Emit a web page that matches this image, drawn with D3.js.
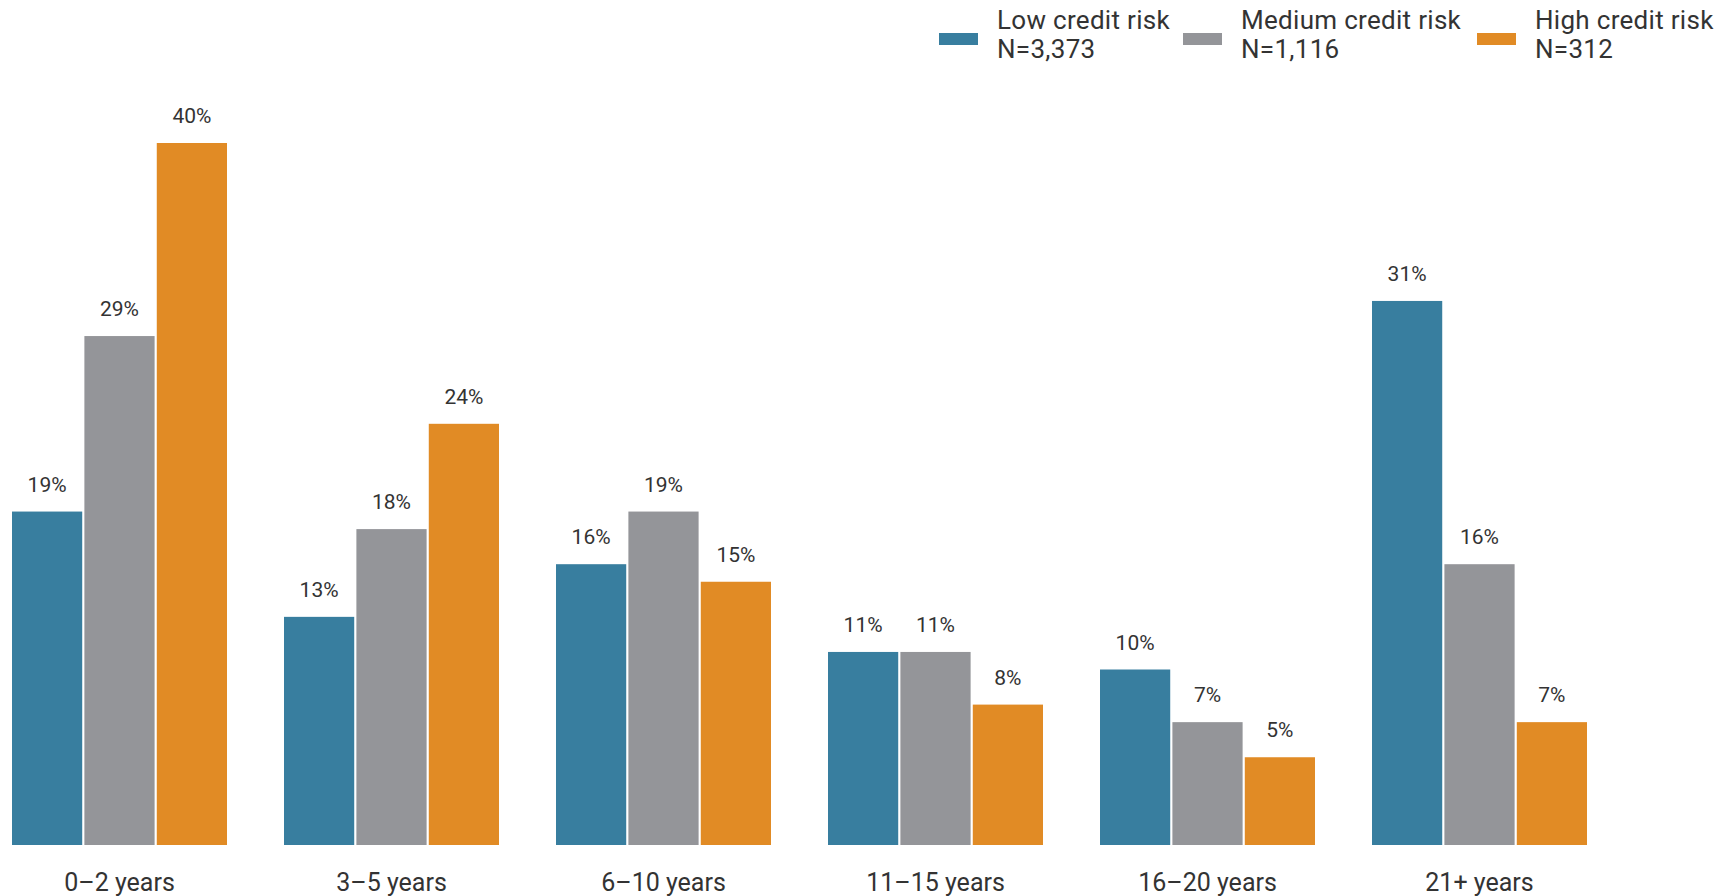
<!DOCTYPE html>
<html>
<head>
<meta charset="utf-8">
<script src="https://cdn.jsdelivr.net/npm/d3@7"></script>
<style>
  html, body { margin: 0; padding: 0; background: #fff; }
  svg { display: block; font-family: Roboto, "Noto Sans", sans-serif; }
</style>
</head>
<body>
<svg id="chart" width="1734" height="896"></svg>
<script>
const categories = ["0–2 years", "3–5 years", "6–10 years", "11–15 years", "16–20 years", "21+ years"];
const seriesNames = ["Low credit risk", "Medium credit risk", "High credit risk"];
const seriesN = ["N=3,373", "N=1,116", "N=312"];
const lowValues = [19, 13, 16, 11, 10, 31];
const mediumValues = [29, 18, 19, 11, 7, 16];
const highValues = [40, 24, 15, 8, 5, 7];
const colors = ["#387e9f", "#949599", "#e18b25"];

const seriesValues = [lowValues, mediumValues, highValues];
const data = categories.map((c, i) => ({
  category: c,
  values: seriesValues.map((arr, s) => ({ series: seriesNames[s], value: arr[i], s }))
}));

const svg = d3.select("#chart");
const baseline = 845;

const x0 = d3.scaleBand()
  .domain(categories)
  .range([12, 1587])
  .paddingInner(0.2096)
  .paddingOuter(0);

const x1 = d3.scaleBand()
  .domain(seriesNames)
  .range([0, x0.bandwidth()])
  .paddingInner(0.03)
  .paddingOuter(0);

const y = d3.scaleLinear().domain([0, 40]).range([baseline, 143]);

const groups = svg.append("g").selectAll("g")
  .data(data).join("g")
  .attr("transform", d => `translate(${x0(d.category)},0)`);

groups.selectAll("rect")
  .data(d => d.values).join("rect")
  .attr("x", d => x1(d.series))
  .attr("y", d => y(d.value))
  .attr("width", x1.bandwidth())
  .attr("height", d => baseline - y(d.value))
  .attr("fill", d => colors[d.s]);

groups.selectAll("text.val")
  .data(d => d.values).join("text")
  .attr("class", "val")
  .attr("x", d => x1(d.series) + x1.bandwidth() / 2)
  .attr("y", d => y(d.value) - 20)
  .attr("text-anchor", "middle")
  .attr("font-size", 21)
  .attr("fill", "#333")
  .text(d => d.value + "%");

// x axis labels
const xAxis = d3.axisBottom(x0).tickSize(0).tickPadding(0);
const ax = svg.append("g").attr("transform", `translate(0,${baseline})`).call(xAxis);
ax.select(".domain").remove();
ax.selectAll("text")
  .attr("font-size", 25)
  .attr("font-family", "Roboto, sans-serif")
  .attr("fill", "#333")
  .attr("dy", null)
  .attr("y", 46);

// legend
const legendX = [939, 1183, 1477];
const legend = svg.append("g").selectAll("g")
  .data(seriesNames).join("g")
  .attr("transform", (d, i) => `translate(${legendX[i]},0)`);
legend.append("rect")
  .attr("x", 0).attr("y", 33).attr("width", 39).attr("height", 12)
  .attr("fill", (d, i) => colors[i]);
legend.append("text")
  .attr("x", 58).attr("y", 29)
  .attr("font-size", 26).attr("letter-spacing", "0.3px").attr("fill", "#333")
  .text(d => d);
legend.append("text")
  .attr("x", 58).attr("y", 58)
  .attr("font-size", 26).attr("letter-spacing", "0.3px").attr("fill", "#333")
  .text((d, i) => seriesN[i]);
</script>
</body>
</html>
